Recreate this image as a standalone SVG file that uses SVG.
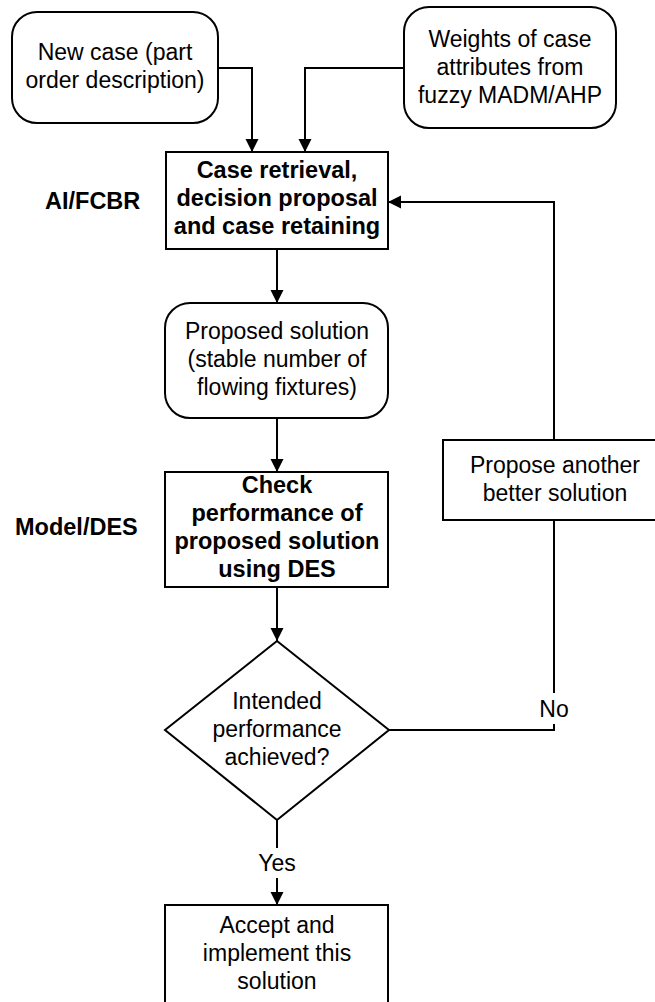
<svg xmlns="http://www.w3.org/2000/svg" width="655" height="1002" viewBox="0 0 655 1002">
  <defs>
    <marker id="arrow" markerUnits="userSpaceOnUse" markerWidth="14" markerHeight="14" refX="13" refY="6.5" orient="auto">
      <path d="M0,0 L13,6.5 L0,13 z" fill="#000"/>
    </marker>
    <style>
      .box { fill: #fff; stroke: #000; stroke-width: 2; }
      .edge { fill: none; stroke: #000; stroke-width: 2; }
      .arrow { marker-end: url(#arrow); }
      text { font-family: "Liberation Sans", Arial, sans-serif; font-size: 23px; fill: #000; }
      .c { text-anchor: middle; }
      .b { font-weight: bold; font-size: 23.5px; }
      .mask { fill: #fff; stroke: none; }
    </style>
  </defs>
  <rect width="655" height="1002" fill="#fff"/>

  <!-- connectors -->
  <g id="connectors">
    <path class="edge arrow" d="M218,68 H252 V152"/>
    <path class="edge arrow" d="M404,68 H305 V152"/>
    <path class="edge arrow" d="M277,249 V303"/>
    <path class="edge arrow" d="M277,418 V472"/>
    <path class="edge arrow" d="M277,587 V641"/>
    <path class="edge arrow" d="M277,820 V905"/>
    <path class="edge" d="M389,730 H554 V520"/>
    <path class="edge arrow" d="M554,440 V202 H388"/>
    <!-- branch labels -->
    <rect class="mask" x="258" y="848" width="38" height="30"/>
    <text class="c" x="277" y="871">Yes</text>
    <rect class="mask" x="539" y="693" width="30" height="31"/>
    <text class="c" x="554" y="717">No</text>
  </g>

  <g id="new-case">
    <rect class="box" x="12" y="12" width="206" height="111" rx="25" ry="25"/>
    <text class="c" x="115" y="60">New case (part</text>
    <text class="c" x="115" y="88">order description)</text>
  </g>

  <g id="weights">
    <rect class="box" x="404" y="7" width="212" height="121" rx="25" ry="25"/>
    <text class="c" x="510" y="47">Weights of case</text>
    <text class="c" x="510" y="75">attributes from</text>
    <text class="c" x="510" y="103">fuzzy MADM/AHP</text>
  </g>

  <g id="retrieval">
    <rect class="box" x="166" y="152" width="222" height="97"/>
    <text class="c b" x="277" y="178">Case retrieval,</text>
    <text class="c b" x="277" y="206">decision proposal</text>
    <text class="c b" x="277" y="234">and case retaining</text>
  </g>

  <g id="label-ai">
    <text class="b" x="45" y="209">AI/FCBR</text>
  </g>

  <g id="proposed">
    <rect class="box" x="165" y="303" width="223" height="115" rx="25" ry="25"/>
    <text class="c" x="277" y="339">Proposed solution</text>
    <text class="c" x="277" y="367">(stable number of</text>
    <text class="c" x="277" y="395">flowing fixtures)</text>
  </g>

  <g id="check">
    <rect class="box" x="165" y="472" width="223" height="115"/>
    <text class="c b" x="277" y="493">Check</text>
    <text class="c b" x="277" y="521">performance of</text>
    <text class="c b" x="277" y="549">proposed solution</text>
    <text class="c b" x="277" y="577">using DES</text>
  </g>

  <g id="label-model">
    <text class="b" x="15" y="535">Model/DES</text>
  </g>

  <g id="another">
    <rect class="box" x="443" y="440" width="224" height="80"/>
    <text class="c" x="555" y="473">Propose another</text>
    <text class="c" x="555" y="501">better solution</text>
  </g>

  <g id="decision">
    <polygon class="box" points="277,641 389,730 277,820 165,730"/>
    <text class="c" x="277" y="709">Intended</text>
    <text class="c" x="277" y="737">performance</text>
    <text class="c" x="277" y="765">achieved?</text>
  </g>

  <g id="accept">
    <rect class="box" x="165" y="905" width="223" height="110"/>
    <text class="c" x="277" y="933">Accept and</text>
    <text class="c" x="277" y="961">implement this</text>
    <text class="c" x="277" y="989">solution</text>
  </g>
</svg>
